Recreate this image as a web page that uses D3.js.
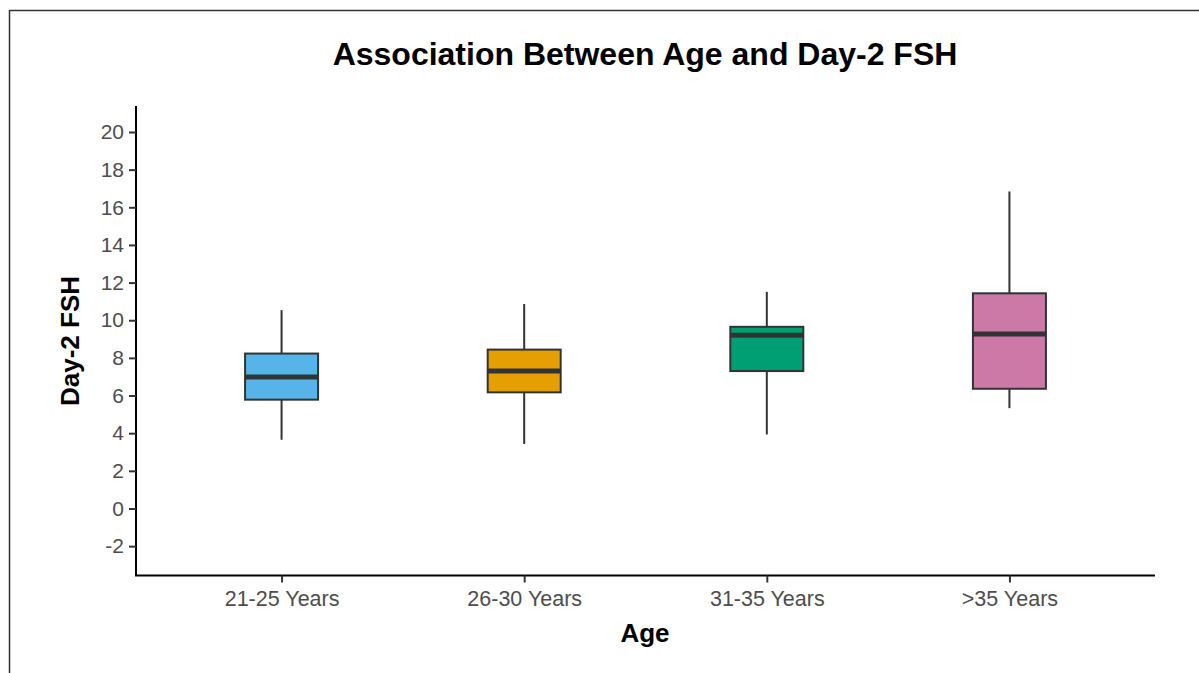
<!DOCTYPE html>
<html>
<head>
<meta charset="utf-8">
<script src="https://cdn.jsdelivr.net/npm/d3@7"></script>
<style>
  html, body { margin: 0; padding: 0; background: #fff; }
  svg { display: block; font-family: "Liberation Sans", Arial, Helvetica, sans-serif; }
</style>
</head>
<body>
<svg id="chart" width="1199" height="673"></svg>
<script>
const categories = ["21-25 Years", "26-30 Years", "31-35 Years", ">35 Years"];
const whiskerLow = [3.65, 3.43, 3.93, 5.33];
const q1 = [5.78, 6.17, 7.30, 6.36];
const median = [6.98, 7.30, 9.20, 9.27];
const q3 = [8.23, 8.44, 9.65, 11.43];
const whiskerHigh = [10.54, 10.86, 11.51, 16.84];
const fills = ["#56B4E9", "#E69F00", "#009E73", "#CC79A7"];
const yTicks = [-2, 0, 2, 4, 6, 8, 10, 12, 14, 16, 18, 20];

(function () {
const svg = d3.select("#chart");
const W = 1199, H = 673;
const pL = 136, pR = 1155, pT = 106, pB = 575.5;

// frame
svg.append("line").attr("x1", 9.5).attr("x2", W).attr("y1", 10.5).attr("y2", 10.5)
  .attr("stroke", "#333").attr("stroke-width", 1.5);
svg.append("line").attr("x1", 9.5).attr("x2", 9.5).attr("y1", 10).attr("y2", H)
  .attr("stroke", "#333").attr("stroke-width", 1.5);

const y = d3.scaleLinear().domain([-3.56, 21.38]).range([pB, pT]);
const x = d3.scalePoint().domain(categories).range([pL, pR]).padding(0.6);
const boxW = 73;

const data = categories.map((c, i) => ({
  c, lo: whiskerLow[i], q1: q1[i], med: median[i], q3: q3[i], hi: whiskerHigh[i], fill: fills[i]
}));

const g = svg.append("g");
data.forEach(d => {
  const cx = x(d.c);
  g.append("line").attr("x1", cx).attr("x2", cx).attr("y1", y(d.hi)).attr("y2", y(d.q3))
    .attr("stroke", "#333").attr("stroke-width", 2);
  g.append("line").attr("x1", cx).attr("x2", cx).attr("y1", y(d.q1)).attr("y2", y(d.lo))
    .attr("stroke", "#333").attr("stroke-width", 2);
  g.append("rect").attr("x", cx - boxW / 2).attr("width", boxW)
    .attr("y", y(d.q3)).attr("height", y(d.q1) - y(d.q3))
    .attr("fill", d.fill).attr("stroke", "#333").attr("stroke-width", 2);
  g.append("line").attr("x1", cx - boxW / 2).attr("x2", cx + boxW / 2)
    .attr("y1", y(d.med)).attr("y2", y(d.med))
    .attr("stroke", "#333").attr("stroke-width", 5);
});

// y axis
const yAxis = svg.append("g").attr("transform", `translate(${pL},0)`)
  .call(d3.axisLeft(y).tickValues(yTicks).tickFormat(d => String(d))
    .tickSize(7).tickPadding(5).tickSizeOuter(0));
yAxis.select(".domain").attr("stroke", "#000").attr("stroke-width", 2)
  .attr("d", `M0,${pT}V${pB}`);
yAxis.selectAll(".tick line").attr("stroke", "#333").attr("stroke-width", 2);
yAxis.selectAll(".tick text").attr("fill", "#4D4D4D").style("font-size", "21px")
  .style("font-family", "Liberation Sans, Arial, sans-serif");

// x axis
const xAxis = svg.append("g").attr("transform", `translate(0,${pB})`)
  .call(d3.axisBottom(x).tickSize(7).tickPadding(8).tickSizeOuter(0));
xAxis.select(".domain").attr("stroke", "#000").attr("stroke-width", 2)
  .attr("d", `M${pL - 1},0H${pR}`);
xAxis.selectAll(".tick line").attr("stroke", "#333").attr("stroke-width", 2);
xAxis.selectAll(".tick text").attr("fill", "#4D4D4D").style("font-size", "21.5px")
  .style("font-family", "Liberation Sans, Arial, sans-serif");

// titles
svg.append("text").attr("x", 645).attr("y", 65).attr("text-anchor", "middle")
  .style("font-size", "32px").style("font-weight", "bold").attr("fill", "#000")
  .text("Association Between Age and Day-2 FSH");
svg.append("text").attr("x", 645).attr("y", 642).attr("text-anchor", "middle")
  .style("font-size", "26px").style("font-weight", "bold").attr("fill", "#000")
  .text("Age");
svg.append("text").attr("transform", "translate(79,341) rotate(-90)").attr("text-anchor", "middle")
  .style("font-size", "26px").style("font-weight", "bold").attr("fill", "#000")
  .text("Day-2 FSH");
})();
</script>
</body>
</html>
